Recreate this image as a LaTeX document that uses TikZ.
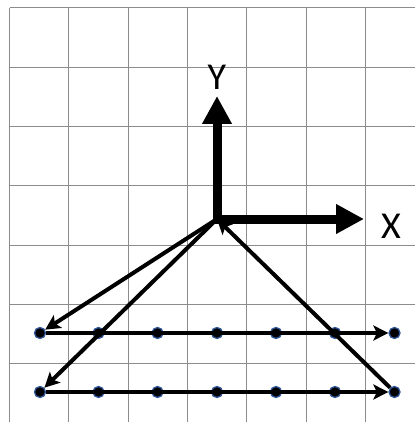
\documentclass[tikz,border=0pt]{standalone}
\usepackage{fontspec}
\setmainfont{Carlito}
\usetikzlibrary{arrows.meta}
\definecolor{dotblue}{RGB}{47,85,151}
\definecolor{gridgray}{RGB}{140,140,140}
\begin{document}
\begin{tikzpicture}[x=1pt,y=-1pt,
  gridline/.style={draw=gridgray, line width=1pt},
  axisarrow/.style={line width=9pt, -{Triangle[length=28pt,width=28pt]}},
  conn/.style={line width=4pt, -{Stealth[length=15pt,width=15pt,inset=3.5pt]}},
  dot/.style={circle, fill=black, draw=dotblue, line width=1.3pt, inner sep=0pt, minimum size=11pt},
  axlabel/.style={font=\fontsize{38}{38}\selectfont, inner sep=0pt}]
\useasboundingbox (0,0) rectangle (415,422);
\fill[white] (0,0) rectangle (415,422);
% grid
\foreach \k in {0,...,6} {
  \draw[gridline] ({9.5+59.33*\k},8) -- ({9.5+59.33*\k},422);
  \draw[gridline] (9.5,{8+59.33*\k}) -- (415,{8+59.33*\k});
}
% axes
\coordinate (O) at (217,219);
\coordinate (ytip) at (217,96);
\coordinate (xtip) at (364,219);
\coordinate (ybase) at (217,224);
\coordinate (xbase) at (212.5,219);
\draw[axisarrow] (ybase) -- (ytip);
\draw[axisarrow] (xbase) -- (xtip);
\node[axlabel] (ylab) at (217,77) {Y};
\node[axlabel] (xlab) at (391,226) {X};
% dots
\foreach \i/\x in {1/40,2/98.5,3/157.5,4/217,5/276,6/335,7/394.5} {
  \node[dot] (d\i) at (\x,333) {};
  \node[dot] (e\i) at (\x,392) {};
}
% connectors
\draw[conn] (O) -- (d1);
\draw[conn] (O) -- (e1);
\draw[conn] (e7) -- (O);
\draw[conn] (d1) -- (d7);
\draw[conn] (e1) -- (e7);
\end{tikzpicture}
\end{document}
